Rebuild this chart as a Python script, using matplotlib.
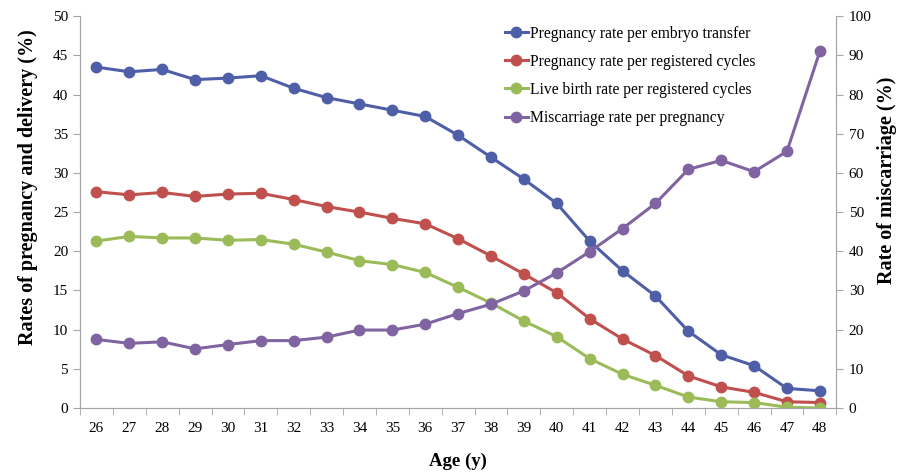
import matplotlib
matplotlib.use("Agg")
import matplotlib.pyplot as plt
from matplotlib.lines import Line2D

ages = [26, 27, 28, 29, 30, 31, 32, 33, 34, 35, 36, 37, 38, 39, 40, 41, 42, 43, 44, 45, 46, 47, 48]
preg_per_transfer = [43.5, 42.9, 43.2, 41.9, 42.1, 42.4, 40.8, 39.6, 38.8, 38.0, 37.2, 34.8, 32.0, 29.2, 26.1, 21.3, 17.5, 14.3, 9.8, 6.8, 5.4, 2.5, 2.2]
preg_per_cycle = [27.6, 27.2, 27.5, 27.0, 27.3, 27.4, 26.6, 25.7, 25.0, 24.2, 23.5, 21.6, 19.4, 17.1, 14.7, 11.4, 8.8, 6.7, 4.1, 2.7, 2.0, 0.8, 0.7]
live_birth = [21.3, 21.9, 21.7, 21.7, 21.4, 21.5, 20.9, 19.9, 18.8, 18.3, 17.3, 15.4, 13.4, 11.1, 9.1, 6.3, 4.3, 2.9, 1.4, 0.8, 0.7, 0.1, 0.0]
miscarriage = [17.5, 16.5, 16.9, 15.1, 16.2, 17.2, 17.2, 18.1, 19.9, 19.9, 21.4, 24.1, 26.5, 29.9, 34.5, 39.9, 45.8, 52.2, 60.9, 63.2, 60.3, 65.5, 91.0]

labels = ["Pregnancy rate per embryo transfer", "Pregnancy rate per registered cycles",
          "Live birth rate per registered cycles", "Miscarriage rate per pregnancy"]
colors = ["#4F5FA7", "#C0504D", "#9BBB59", "#8064A2"]

plt.rcParams['font.family'] = ['Liberation Serif', 'DejaVu Serif']

fig = plt.figure(figsize=(9.09, 4.75), dpi=100)
ax = fig.add_axes([0.088, 0.141, 0.832, 0.825])
ax2 = ax.twinx()

x = list(range(len(ages)))
for ys, c in zip([preg_per_transfer, preg_per_cycle, live_birth], colors[:3]):
    ax.plot(x, ys, color=c, lw=2.2, marker='o', ms=7.5, zorder=3)
ax2.plot(x, miscarriage, color=colors[3], lw=2.2, marker='o', ms=7.5, zorder=3)

ax.set_xlim(-0.5, len(ages) - 0.5)
ax.set_ylim(0, 50)
ax2.set_ylim(0, 100)
ax.set_yticks(range(0, 51, 5))
ax2.set_yticks(range(0, 101, 10))
ax.set_xticks(x)
ax.set_xticklabels([str(a) for a in ages])
ax.set_xticks([i - 0.5 for i in range(len(ages) + 1)], minor=True)
ax.tick_params(axis='x', which='major', length=0, pad=10, labelsize=11)
ax.tick_params(axis='x', which='minor', length=5, color='#A6A6A6', direction='out')
ax.tick_params(axis='y', length=5, color='#A6A6A6', labelsize=11)
ax2.tick_params(axis='y', length=5, color='#A6A6A6', labelsize=11, pad=4)

for a in (ax, ax2):
    a.spines['top'].set_visible(False)
    for s in ('left', 'right', 'bottom'):
        a.spines[s].set_color('#A6A6A6')

ax.set_ylabel("Rates of pregnancy and delivery (%)", fontsize=14.5, fontweight='bold')
ax.yaxis.set_label_coords(-0.056, 0.564)
ax2.set_ylabel("Rate of miscarriage (%)", fontsize=14.5, fontweight='bold')
ax2.yaxis.set_label_coords(1.054, 0.582)
ax.set_xlabel("Age (y)", fontsize=13.5, fontweight='bold', labelpad=13)

handles = [Line2D([0], [0], color=c, lw=2.2, marker='o', ms=7.5) for c in colors]
ax.legend(handles, labels, loc='upper left', bbox_to_anchor=(0.543, 1.012), frameon=False,
          fontsize=11.25, handlelength=1.5, handletextpad=0.12, labelspacing=0.78)

fig.savefig("out.png", dpi=100)
